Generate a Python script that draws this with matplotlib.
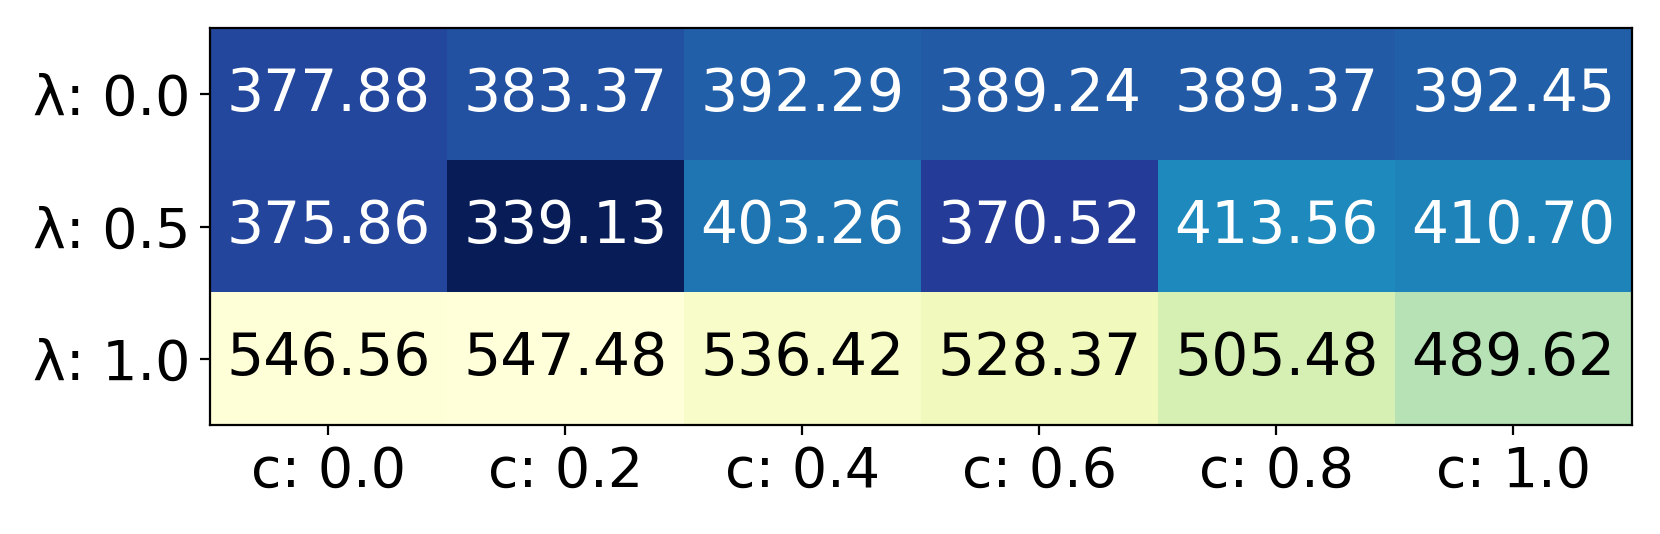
import matplotlib
matplotlib.use("Agg")
import matplotlib.pyplot as plt
import numpy as np

# data
c_labels = ["c: 0.0", "c: 0.2", "c: 0.4", "c: 0.6", "c: 0.8", "c: 1.0"]
lam_labels = ["λ: 0.0", "λ: 0.5", "λ: 1.0"]
row_lam00 = [377.88, 383.37, 392.29, 389.24, 389.37, 392.45]
row_lam05 = [375.86, 339.13, 403.26, 370.52, 413.56, 410.70]
row_lam10 = [546.56, 547.48, 536.42, 528.37, 505.48, 489.62]

values = np.array([row_lam00, row_lam05, row_lam10])

fig = plt.figure(figsize=(8.3, 2.67), dpi=200)
ax = fig.add_axes([0.1265, 0.2041, 0.8566, 0.7434])

ax.imshow(values, cmap="YlGnBu_r", aspect="auto",
          vmin=values.min(), vmax=values.max())

ax.set_xticks(np.arange(len(c_labels)))
ax.set_xticklabels(c_labels, fontsize=20)
ax.set_yticks(np.arange(len(lam_labels)))
ax.set_yticklabels(lam_labels, fontsize=20)

mid = (values.min() + values.max()) / 2
for i in range(values.shape[0]):
    for j in range(values.shape[1]):
        v = values[i, j]
        ax.text(j, i, f"{v:.2f}", ha="center", va="center", fontsize=21,
                color="white" if v < mid else "black")

fig.savefig("out.png", dpi=200)
